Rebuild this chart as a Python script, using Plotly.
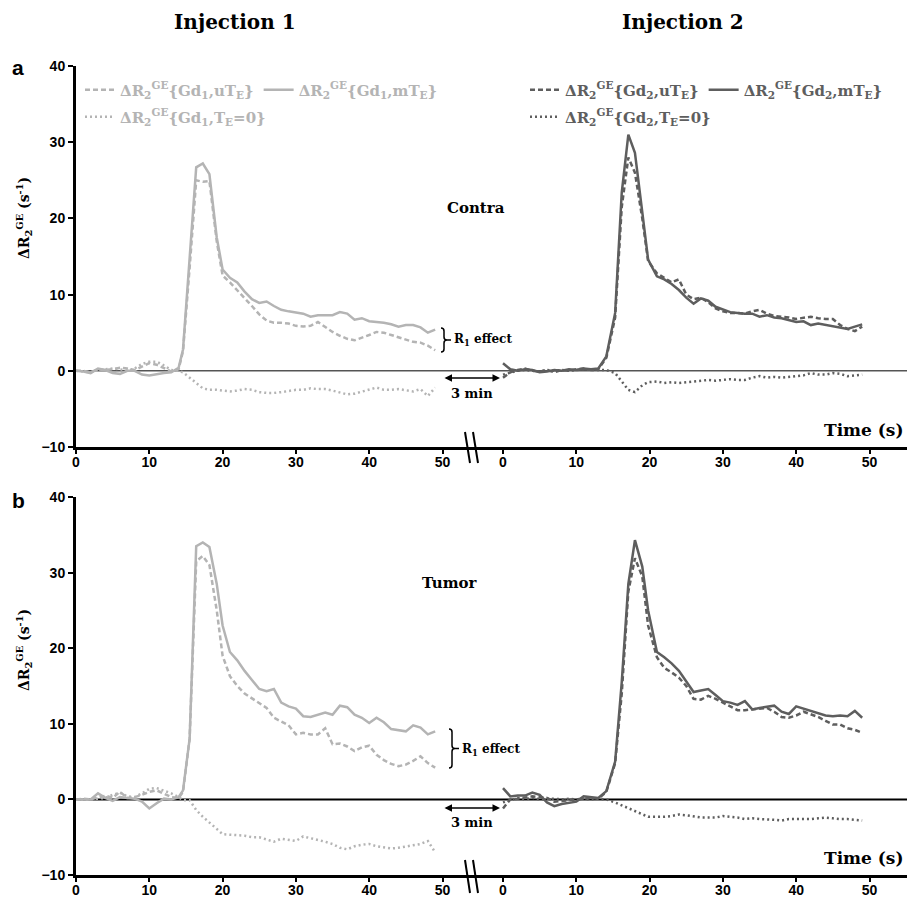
import plotly.graph_objects as go

# page geometry: the browser adds an 8 px body margin, so the figure is made
# a little smaller and every position below is given in page pixels
OFF = 8
W, H = 915 - 2 * OFF, 905 - 2 * OFF
ML, MR, MT, MB = 76 - OFF, 0, 66 - OFF, 22
PW = W - ML - MR
PH = H - MT - MB
PX_PER_S = 7.33


def px(x):
    return (x - OFF - ML) / PW


def py(y):
    return (H - MB - (y - OFF)) / PH


SERIF = "DejaVu Serif"
SANS = "Liberation Sans"
GD1_COLOR = "#b4b4b4"
GD2_COLOR = "#5e5e5e"

# ---- data -----------------------------------------------------------------
T_LEFT = [0, 1, 2, 3, 4, 5, 6, 7, 8, 9, 10, 11, 12, 13, 14,
          14.6, 15.5, 16.4, 17.3, 18.2, 19.2,
          20, 21, 22, 23, 24, 25, 26, 27, 28, 29,
          30, 31, 32, 33, 34, 35, 36, 37, 38, 39,
          40, 41, 42, 43, 44, 45, 46, 47, 48, 49]
T_RIGHT = [0, 1, 2, 3, 4, 5, 6, 7, 8, 9, 10, 11, 12, 13,
           14.1, 15.3, 16.2, 17.1, 18.0, 19.0, 19.8,
           21, 22, 23, 24, 25, 26, 27, 28, 29,
           30, 31, 32, 33, 34, 35, 36, 37, 38, 39,
           40, 41, 42, 43, 44, 45, 46, 47, 48, 49]

# panel a (contra), injection 1
A_GD1_UTE = [0.0, 0.0, -0.2, 0.2, 0.1, 0.2, 0.4, 0.3, 0.1, 0.6, 1.0, 0.8, 0.3, -0.1, 0.2,
             2.6, 13.5, 25.0, 24.8, 24.9, 17.0,
             12.5, 11.6, 10.6, 9.6, 8.5, 7.4, 6.6, 6.3, 6.3, 6.2,
             5.9, 5.8, 5.9, 6.4, 5.7, 5.1, 4.6, 4.2, 4.0, 4.3,
             4.7, 5.1, 5.0, 4.7, 4.4, 4.1, 3.8, 3.7, 3.3, 2.7]
A_GD1_MTE = [0.0, -0.1, -0.3, 0.3, 0.1, -0.3, -0.4, 0.0, 0.0, -0.5, -0.6, -0.4, -0.3, -0.2, 0.4,
             2.8, 14.5, 26.7, 27.2, 25.8, 17.5,
             13.3, 12.2, 11.6, 10.4, 9.4, 8.9, 9.1, 8.5, 8.0, 7.8,
             7.7, 7.5, 7.1, 7.3, 7.3, 7.3, 7.7, 7.5, 6.7, 6.9,
             6.5, 6.4, 6.3, 6.1, 5.8, 6.0, 6.0, 5.7, 5.0, 5.4]
A_GD1_TE0 = [0.0, -0.1, -0.2, 0.1, 0.2, 0.3, 0.2, 0.0, 0.3, 0.9, 1.2, 1.2, 0.7, 0.1, 0.0,
             -0.2, -0.9, -1.6, -2.3, -2.5, -2.5,
             -2.6, -2.7, -2.6, -2.4, -2.5, -2.8, -2.9, -2.9, -2.8, -2.7,
             -2.5, -2.5, -2.3, -2.4, -2.4, -2.6, -2.9, -3.1, -3.0, -2.7,
             -2.4, -2.2, -2.5, -2.5, -2.4, -2.6, -2.7, -2.4, -3.3, -2.2]

# panel a (contra), injection 2
A_GD2_UTE = [-0.9, -0.2, 0.1, 0.3, 0.0, -0.1, 0.1, -0.2, 0.1, 0.0, 0.2, 0.3, 0.1, 0.2,
             1.7, 7.0, 21.5, 28.0, 26.0, 20.0, 14.4,
             12.8, 12.2, 11.6, 12.0, 10.0, 9.4, 9.6, 9.0, 8.2,
             7.8, 7.6, 7.6, 7.5, 7.8, 8.0, 7.5, 7.2, 7.1, 7.0,
             6.8, 7.0, 7.1, 6.9, 6.8, 6.8, 6.0, 5.5, 5.2, 5.8]
A_GD2_MTE = [1.0, 0.2, 0.0, 0.2, 0.1, -0.2, -0.1, 0.1, 0.0, 0.2, 0.1, 0.3, 0.2, 0.3,
             1.9, 7.6, 23.4, 31.0, 28.6, 20.5, 14.6,
             12.4, 12.0, 11.4, 10.6, 9.6, 8.8, 9.5, 9.2, 8.4,
             8.0, 7.7, 7.6, 7.5, 7.5, 7.1, 7.3, 7.0, 6.9, 6.6,
             6.4, 6.5, 6.0, 6.2, 6.0, 5.8, 5.6, 5.5, 5.8, 6.1]
A_GD2_TE0 = [-0.5, -0.2, 0.0, 0.1, 0.0, -0.1, 0.1, 0.0, 0.1, 0.0, 0.1, 0.2, 0.1, 0.1,
             0.1, -0.3, -1.4, -2.5, -2.8, -1.9, -1.5,
             -1.4, -1.6, -1.5, -1.6, -1.5, -1.4, -1.3, -1.2, -1.3,
             -1.2, -1.1, -1.2, -1.2, -0.9, -0.7, -0.9, -0.8, -0.9, -0.8,
             -0.7, -0.6, -0.3, -0.5, -0.5, -0.3, -0.4, -0.7, -0.6, -0.5]

# panel b (tumor), injection 1
B_GD1_UTE = [0.0, 0.1, 0.0, 0.3, 0.5, 0.2, 1.0, 0.2, 0.3, 0.6, 1.0, 1.2, 0.8, 0.3, 0.2,
             1.0, 8.0, 31.5, 32.2, 31.0, 25.0,
             19.0, 16.3, 15.0, 14.0, 13.4, 12.7, 12.1, 10.8, 10.3, 9.8,
             8.6, 8.8, 8.6, 8.6, 9.4, 7.3, 7.4, 7.0, 6.4, 6.9,
             7.1, 5.9, 5.2, 4.7, 4.4, 4.6, 5.1, 5.7, 4.8, 4.2]
B_GD1_MTE = [0.0, 0.0, 0.0, 0.8, 0.2, -0.2, 0.3, 0.2, 0.1, -0.3, -1.2, -0.5, 0.1, 0.0, 0.3,
             1.2, 8.0, 33.5, 34.0, 33.4, 28.5,
             23.0, 19.5, 18.4, 17.0, 15.8, 14.6, 14.3, 14.6, 12.8, 12.3,
             12.0, 11.0, 10.9, 11.2, 11.5, 11.2, 12.4, 12.2, 11.2, 10.8,
             10.1, 10.8, 10.2, 9.3, 9.1, 9.0, 9.8, 9.5, 8.6, 9.0]
B_GD1_TE0 = [0.0, 0.0, 0.0, 0.1, 0.2, 0.6, 0.9, 0.4, 0.3, 0.8, 1.4, 1.5, 1.2, 0.8, 0.3,
             -0.1, -0.1, -1.4, -2.3, -3.0, -3.9,
             -4.6, -4.7, -4.8, -4.8, -5.0, -5.0, -5.3, -5.6, -5.2, -5.3,
             -5.5, -4.9, -5.1, -5.4, -5.6, -5.9, -6.4, -6.6, -6.2, -6.0,
             -5.9, -6.2, -6.4, -6.5, -6.4, -6.2, -6.1, -5.9, -5.5, -7.0]

# panel b (tumor), injection 2
B_GD2_UTE = [-1.2, 0.0, 0.1, 0.3, 0.4, 0.3, 0.2, -0.3, -0.2, -0.1, 0.0, 0.1, 0.2, 0.1,
             1.0, 4.8, 14.0, 27.5, 31.9, 29.5, 23.0,
             18.8, 17.4, 16.8, 16.1, 15.0, 13.3, 13.2, 13.7, 13.3,
             12.8, 12.4, 11.8, 11.8, 11.9, 12.0, 12.1, 11.6, 10.9, 10.8,
             11.1, 11.6, 11.3, 10.9, 10.4, 9.9, 9.9, 9.4, 9.2, 8.8]
B_GD2_MTE = [1.5, 0.4, 0.5, 0.5, 0.9, 0.6, -0.4, -0.9, -0.6, -0.5, -0.3, 0.4, 0.3, 0.2,
             1.1, 5.0, 15.5, 28.5, 34.3, 30.8, 25.0,
             19.5, 18.8, 18.0, 17.0, 15.6, 14.2, 14.4, 14.6, 13.8,
             13.0, 12.8, 12.5, 13.0, 11.9, 12.1, 12.3, 12.4, 11.6, 11.3,
             12.3, 12.0, 11.7, 11.3, 11.1, 11.0, 11.1, 11.0, 11.7, 10.8]
B_GD2_TE0 = [-0.4, -0.1, 0.2, 0.0, 0.2, 0.0, 0.1, 0.1, 0.0, 0.1, 0.0, 0.1, 0.0, 0.1,
             0.0, -0.4, -0.8, -1.2, -1.5, -2.0, -2.3,
             -2.3, -2.3, -2.2, -2.0, -2.1, -2.3, -2.4, -2.4, -2.4,
             -2.2, -2.3, -2.4, -2.6, -2.5, -2.6, -2.6, -2.7, -2.8, -2.6,
             -2.6, -2.6, -2.6, -2.5, -2.4, -2.5, -2.6, -2.6, -2.7, -2.8]

DR2 = "ΔR<sub>2</sub><sup>GE</sup>"
SERIES = [
    # (time, values, xaxis, yaxis, color, dash, name, legend)
    (T_LEFT, A_GD1_UTE, "x", "y", GD1_COLOR, "5px,3px", DR2 + "{Gd<sub>1</sub>,uT<sub>E</sub>}", "legend"),
    (T_LEFT, A_GD1_MTE, "x", "y", GD1_COLOR, "solid", DR2 + "{Gd<sub>1</sub>,mT<sub>E</sub>}", "legend"),
    (T_LEFT, A_GD1_TE0, "x", "y", GD1_COLOR, "2px,3px", DR2 + "{Gd<sub>1</sub>,T<sub>E</sub>=0}", "legend2"),
    (T_RIGHT, A_GD2_UTE, "x2", "y", GD2_COLOR, "5px,3px", DR2 + "{Gd<sub>2</sub>,uT<sub>E</sub>}", "legend3"),
    (T_RIGHT, A_GD2_MTE, "x2", "y", GD2_COLOR, "solid", DR2 + "{Gd<sub>2</sub>,mT<sub>E</sub>}", "legend3"),
    (T_RIGHT, A_GD2_TE0, "x2", "y", GD2_COLOR, "2px,3px", DR2 + "{Gd<sub>2</sub>,T<sub>E</sub>=0}", "legend4"),
    (T_LEFT, B_GD1_UTE, "x3", "y3", GD1_COLOR, "5px,3px", None, None),
    (T_LEFT, B_GD1_MTE, "x3", "y3", GD1_COLOR, "solid", None, None),
    (T_LEFT, B_GD1_TE0, "x3", "y3", GD1_COLOR, "2px,3px", None, None),
    (T_RIGHT, B_GD2_UTE, "x4", "y3", GD2_COLOR, "5px,3px", None, None),
    (T_RIGHT, B_GD2_MTE, "x4", "y3", GD2_COLOR, "solid", None, None),
    (T_RIGHT, B_GD2_TE0, "x4", "y3", GD2_COLOR, "2px,3px", None, None),
]

fig = go.Figure()
for t, vals, xa, ya, color, dash, name, leg in SERIES:
    fig.add_trace(go.Scatter(
        x=t, y=vals, xaxis=xa, yaxis=ya, mode="lines",
        line={"color": color, "width": 2.5, "dash": dash},
        name=name or "", showlegend=name is not None,
        legend=leg or "legend",
    ))

BREAK_X = 470          # page px where the left time axis hands over to the right one
RIGHT_ZERO = 503       # page px of t = 0 on the right time axis
RIGHT_END = W + OFF    # page px where the right axis stops
left_range = [0, (BREAK_X - 76) / PX_PER_S]
right_range = [-(RIGHT_ZERO - BREAK_X) / PX_PER_S, (RIGHT_END - RIGHT_ZERO) / PX_PER_S]

tick_font = {"family": SANS, "size": 14, "color": "black", "weight": "bold"}
xcommon = dict(
    showline=True, linecolor="black", linewidth=2.5, ticks="outside",
    ticklen=4, tickwidth=2, tickcolor="black", tick0=0, dtick=10,
    ticklabelstandoff=-4,
    showgrid=False, zeroline=False, automargin=False, tickfont=tick_font,
)
ycommon = dict(
    range=[-10, 40], dtick=10, showline=True, linecolor="black", linewidth=3,
    ticks="outside", ticklen=5, tickwidth=2, tickcolor="black",
    showgrid=False, zeroline=False, automargin=False, tickfont=tick_font,
)

legend_common = dict(
    orientation="h", xanchor="left", yanchor="middle",
    bgcolor="rgba(0,0,0,0)", itemwidth=30, tracegroupgap=0,
)


def legend_font(color):
    return {"family": SERIF, "size": 15, "color": color, "weight": "bold"}


fig.update_layout(
    width=W, height=H,
    margin={"l": ML, "r": MR, "t": MT, "b": MB, "autoexpand": False},
    paper_bgcolor="white", plot_bgcolor="rgba(0,0,0,0)",
    xaxis=dict(xcommon, domain=[0, px(BREAK_X)], range=left_range, anchor="y"),
    xaxis2=dict(xcommon, domain=[px(BREAK_X), 1], range=right_range, anchor="y"),
    xaxis3=dict(xcommon, domain=[0, px(BREAK_X)], range=left_range, anchor="y3"),
    xaxis4=dict(xcommon, domain=[px(BREAK_X), 1], range=right_range, anchor="y3"),
    yaxis=dict(ycommon, domain=[py(447), 1], anchor="x"),
    yaxis3=dict(ycommon, domain=[0, py(497)], anchor="x3"),
    legend=dict(legend_common, x=px(80), y=py(90), font=legend_font(GD1_COLOR)),
    legend2=dict(legend_common, x=px(80), y=py(117), font=legend_font(GD1_COLOR)),
    legend3=dict(legend_common, x=px(525), y=py(90), font=legend_font(GD2_COLOR)),
    legend4=dict(legend_common, x=px(525), y=py(117), font=legend_font(GD2_COLOR)),
    showlegend=True,
)

# zero lines
fig.add_shape(type="line", xref="paper", yref="y", x0=0, x1=1, y0=0, y1=0,
              line={"color": "#555555", "width": 1.5}, layer="below")
fig.add_shape(type="line", xref="paper", yref="y3", x0=0, x1=1, y0=0, y1=0,
              line={"color": "black", "width": 2}, layer="below")

# axis break marks
for y_top, y_bot in [(432, 463), (860, 893)]:
    for dx in (0, 8):
        fig.add_shape(type="line", xref="paper", yref="paper",
                      x0=px(465 + dx), x1=px(470 + dx), y0=py(y_top), y1=py(y_bot),
                      line={"color": "black", "width": 2})


def label(text, x, y, size, family=SERIF, xanchor="center", angle=0):
    fig.add_annotation(text=text, x=px(x), y=py(y), xref="paper", yref="paper",
                       xanchor=xanchor, yanchor="middle", showarrow=False, textangle=angle,
                       font={"family": family, "size": size, "color": "black", "weight": "bold"})


def brace(x0, y_top, y_bot, w=6):
    """Right-facing curly brace drawn in page pixels."""
    xm, x1 = x0 + w / 2, x0 + w
    ym = (y_top + y_bot) / 2
    r = 3
    pts = [
        f"M{px(x0)},{py(y_top)}",
        f"Q{px(xm)},{py(y_top)} {px(xm)},{py(y_top + r)}",
        f"L{px(xm)},{py(ym - r)}",
        f"Q{px(xm)},{py(ym)} {px(x1)},{py(ym)}",
        f"Q{px(xm)},{py(ym)} {px(xm)},{py(ym + r)}",
        f"L{px(xm)},{py(y_bot - r)}",
        f"Q{px(xm)},{py(y_bot)} {px(x0)},{py(y_bot)}",
        f"M{px(x1)},{py(ym)} L{px(x1 + 4)},{py(ym)}",
    ]
    fig.add_shape(type="path", xref="paper", yref="paper", path=" ".join(pts),
                  line={"color": "black", "width": 1.5})


label("Injection 1", 235, 22, 20)
label("Injection 2", 683, 22, 20)
label("a", 18, 68, 21, family=SANS)
label("b", 18, 500, 21, family=SANS)
label("Contra", 476, 208, 15)
label("Tumor", 450, 583, 15)
label("Time (s)", 906, 430, 17, xanchor="right")
label("Time (s)", 906, 858, 17, xanchor="right")
label(DR2 + " (s<sup>-1</sup>)", 24, 218, 14, angle=-90)
label(DR2 + " (s<sup>-1</sup>)", 24, 650, 14, angle=-90)

# R1 effect brackets
brace(441, 328, 352)
label("R<sub>1</sub> effect", 452, 340, 12, xanchor="left")
brace(449, 729, 768)
label("R<sub>1</sub> effect", 460, 750, 12, xanchor="left")

# 3 min gap arrows
for y_arrow, y_text in [(378, 393), (808, 822)]:
    fig.add_annotation(x=px(500), y=py(y_arrow), ax=-57, ay=0, xref="paper", yref="paper",
                       text="", showarrow=True, arrowside="end+start", arrowhead=2,
                       arrowsize=1, arrowwidth=1.5, arrowcolor="black")
    label("3 min", 472, y_text, 13)

fig.write_html("out.html")
